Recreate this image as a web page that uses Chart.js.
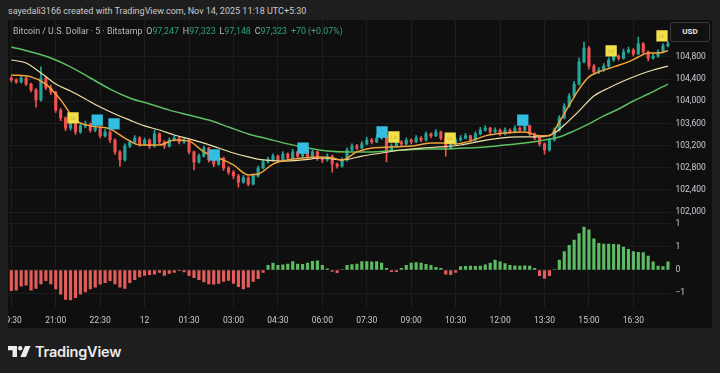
<!DOCTYPE html>
<html>
<head>
<meta charset="utf-8">
<script src="https://cdn.jsdelivr.net/npm/chart.js@4.4.1/dist/chart.umd.min.js"></script>
<style>
html,body{margin:0;padding:0;background:#1e1e1e;width:720px;height:373px;overflow:hidden;font-family:Roboto,"Noto Sans",sans-serif;}
#hdr{position:absolute;left:8px;top:5px;font-size:9px;line-height:12px;color:#c9c9c9;white-space:pre;}
#panel{position:absolute;left:8px;top:20px;width:704px;height:308px;background:#0f0f0f;overflow:hidden;}
#top{position:absolute;left:0;top:0;}
#bot{position:absolute;left:0;top:197px;}
#legend{position:absolute;left:5px;top:5px;font-size:8.8px;line-height:12px;color:#b9bcc4;white-space:pre;}
#legend .g{color:#2fa37a;}
#legend .k{margin-left:4px;}
#usd{position:absolute;left:662px;top:2px;width:38px;height:18px;border:1px solid #3a3a3a;border-radius:3px;background:#111;color:#e6e6e6;font-size:8px;font-weight:bold;line-height:18px;text-align:center;}
#foot{position:absolute;left:8px;top:343px;height:16px;display:flex;align-items:center;}
#foot span{font-family:Inter,Roboto,sans-serif;font-weight:600;font-size:14.5px;color:#ececec;margin-left:4px;letter-spacing:-0.2px;}
</style>
</head>
<body>
<div id="hdr">sayedali3166 created with TradingView.com, Nov 14, 2025 11:18 UTC+5:30</div>
<div id="panel">
  <canvas id="top" width="704" height="197"></canvas>
  <canvas id="bot" width="704" height="111"></canvas>
  <div id="legend">Bitcoin / U.S. Dollar · 5 · Bitstamp<span class="k">O</span><span class="g">97,247</span><span class="k">H</span><span class="g">97,323</span><span class="k">L</span><span class="g">97,148</span><span class="k">C</span><span class="g">97,323</span><span class="g k">+70 (+0.07%)</span></div>
  <div id="usd">USD</div>
</div>
<div id="foot">
  <svg width="23" height="11" viewBox="0 0 23 11"><path d="M0 0h9v11h-4.5v-6.8h-4.5z" fill="#ececec"/><circle cx="12.2" cy="2.2" r="2.2" fill="#ececec"/><path d="M17 0h5.5l-4.6 11h-5.5z" fill="#ececec"/></svg>
  <span>TradingView</span>
</div>
<script>
// 10 minute candles, first bar 19:30
const opens = [104420,104385,104350,104420,104310,104205,104025,104420,104240,104165,
103840,103700,103515,103590,103445,103555,103590,103480,103515,103375,
103445,103300,103085,102940,103190,103265,103335,103230,103300,103190,
103410,103265,103190,103300,103335,103265,103300,103085,102905,103010,
103155,102940,102865,102975,102795,102720,102650,102540,102615,102505,
102650,102795,102905,102940,103010,102940,103045,102975,103085,103010,
103120,103010,103085,102975,102940,103010,102865,102830,102940,103120,
103190,103155,103230,103300,103265,103335,103375,103120,103190,103265,
103230,103300,103265,103335,103300,103410,103375,103445,103335,103155,
103230,103300,103335,103375,103300,103410,103480,103515,103445,103480,
103410,103480,103445,103515,103480,103555,103410,103335,103230,103120,
103300,103480,103700,103915,104095,104310,104710,104960,104635,104530,
104565,104635,104745,104815,104780,104890,104925,104855,105035,104890,
104780,104815,104890,105000];
const closes = [104385,104350,104420,104310,104205,104025,104420,104240,104165,103840,
103700,103515,103590,103445,103555,103590,103480,103515,103375,103445,
103300,103085,102940,103190,103265,103335,103230,103300,103190,103410,
103265,103190,103300,103335,103265,103300,103085,102905,103010,103155,
102940,102865,102975,102795,102720,102650,102540,102615,102505,102650,
102795,102905,102940,103010,102940,103045,102975,103085,103010,103120,
103010,103085,102975,102940,103010,102865,102830,102940,103120,103190,
103155,103230,103300,103265,103335,103375,103120,103190,103265,103230,
103300,103265,103335,103300,103410,103375,103445,103335,103155,103230,
103300,103335,103375,103300,103410,103480,103515,103445,103480,103410,
103480,103445,103515,103480,103555,103410,103335,103230,103120,103300,
103480,103700,103915,104095,104310,104710,104960,104635,104530,104565,
104635,104745,104815,104780,104890,104925,104855,105035,104890,104780,
104815,104890,105000,105035];
const highs = [104450,104410,104460,104440,104330,104230,104620,104440,104290,104180,
103870,103720,103640,103610,103600,103640,103610,103560,103540,103490,
103470,103320,103110,103230,103300,103380,103360,103340,103320,103480,
103430,103290,103340,103380,103360,103350,103320,103100,103050,103190,
103170,102970,103020,102990,102820,102750,102680,102660,102640,102690,
102830,102940,102990,103050,103030,103090,103070,103130,103100,103170,
103140,103120,103100,103000,103050,103030,102890,102980,103160,103230,
103220,103270,103350,103330,103390,103430,103390,103230,103300,103290,
103340,103320,103380,103360,103450,103430,103490,103460,103350,103270,
103340,103380,103420,103390,103450,103530,103560,103530,103520,103500,
103520,103500,103560,103540,103610,103570,103430,103350,103250,103330,
103520,103740,103960,104140,104360,104780,105070,104990,104660,104610,
104680,104790,104860,104840,104940,104980,104950,105160,105060,104910,
104860,104930,105040,105080];
const lows = [104350,104320,104330,104280,104170,103895,104000,104210,104120,103800,
103650,103470,103480,103400,103420,103520,103440,103450,103340,103350,
103250,103040,102830,102920,103160,103240,103190,103200,103150,103170,
103230,103150,103170,103280,103230,103240,103050,102760,102880,102990,
102900,102820,102840,102750,102680,102600,102450,102520,102470,102490,
102630,102780,102880,102920,102900,102920,102940,102960,102970,102990,
102960,102990,102930,102890,102920,102720,102790,102810,102920,103100,
103120,103140,103210,103230,103250,103310,102905,103090,103170,103200,
103210,103230,103250,103270,103280,103340,103360,103300,103010,103130,
103210,103280,103320,103270,103280,103390,103460,103410,103430,103380,
103390,103420,103430,103450,103460,103380,103300,103190,103045,103100,
103280,103460,103680,103890,104070,104290,104690,104580,104490,104500,
104540,104610,104720,104740,104760,104870,104820,104840,104850,104730,
104760,104790,104870,104980];

// moving averages: [bar, price]
const maFast = [[0,104475],[4,104440],[7,104310],[10,104025],[13,103660],[16,103555],[20,103500],
[23,103335],[26,103210],[30,103210],[33,103300],[36,103280],[39,103085],[42,102975],[45,102850],
[48,102670],[50,102685],[53,102865],[56,102940],[59,102975],[62,102995],[65,102975],[67,102940],
[70,103085],[73,103155],[77,103175],[81,103190],[85,103245],[88,103245],[90,103230],[93,103280],
[96,103375],[100,103425],[104,103445],[107,103375],[109,103375],[111,103625],[113,103930],
[115,104220],[117,104440],[119,104530],[122,104620],[125,104710],[127,104800],[129,104870],
[131,104870],[133,104910]];
const maMid = [[0,104745],[3,104690],[6,104510],[9,104310],[12,104185],[15,104040],[18,103895],
[21,103770],[24,103660],[27,103555],[30,103480],[33,103390],[36,103320],[39,103245],[42,103155],
[45,103065],[48,102995],[51,102940],[55,102920],[59,102940],[63,102975],[67,102940],[71,103010],
[75,103065],[79,103120],[83,103155],[87,103175],[91,103210],[95,103280],[99,103335],[103,103355],
[107,103355],[110,103425],[112,103570],[115,103825],[118,104095],[121,104240],[124,104365],
[127,104475],[130,104565],[133,104635]];
const maSlow = [[0,104980],[4,104890],[8,104780],[12,104620],[16,104420],[20,104220],[24,104060],
[28,103950],[32,103840],[36,103750],[40,103660],[44,103535],[48,103410],[52,103320],[56,103230],
[60,103155],[64,103100],[68,103085],[72,103085],[76,103100],[80,103120],[84,103140],[88,103140],
[92,103155],[96,103175],[100,103210],[104,103245],[108,103300],[111,103355],[114,103465],
[117,103590],[120,103735],[123,103860],[126,104005],[129,104130],[133,104310]];

// signal squares
const signalIdx = [12.5,17.4,20.8,41.1,59.1,75.1,77.5,88.9,103.6,121.5,131.8];
const signalPrice = [103700,103660,103590,103030,103155,103445,103355,103335,103660,104910,105180];
const signalKind = ['y','c','c','c','c','c','y','y','c','y','y'];

// oscillator histogram
const osc = [-0.9,-0.88,-0.7,-0.66,-0.88,-0.8,-0.6,-0.46,-0.6,-0.82,
-1.05,-1.28,-1.3,-1.2,-1.05,-0.95,-0.82,-0.75,-0.62,-0.55,
-0.46,-0.6,-0.75,-0.8,-0.55,-0.42,-0.3,-0.24,-0.2,-0.18,
-0.1,-0.24,-0.15,-0.1,-0.03,-0.08,-0.25,-0.33,-0.42,-0.52,
-0.6,-0.62,-0.58,-0.5,-0.45,-0.58,-0.72,-0.82,-0.75,-0.5,
-0.38,-0.1,0.2,0.3,0.2,0.22,0.26,0.37,0.26,0.25,
0.3,0.38,0.4,0.2,0.05,-0.06,-0.12,0.02,0.2,0.24,
0.26,0.37,0.37,0.36,0.37,0.3,0.07,-0.07,-0.07,0.07,
0.2,0.3,0.32,0.3,0.25,0.2,0.12,0.07,-0.18,-0.2,
-0.1,0.15,0.16,0.17,0.16,0.17,0.22,0.3,0.43,0.36,
0.28,0.2,0.18,0.17,0.18,0.17,0.07,-0.25,-0.37,-0.25,
0.02,0.43,0.8,1.07,1.3,1.58,1.87,1.75,1.35,1.16,
1.13,1.13,1.12,1.1,1.0,0.9,0.8,0.77,0.76,0.6,
0.35,0.17,0.15,0.35];

const timeIdx = [0,9,18,27,36,45,54,63,72,81,90,99,108,117,126];
const timeLabels = ['19:30','21:00','22:30','12','01:30','03:00','04:30','06:00','07:30','09:00','10:30','12:00','13:30','15:00','16:30'];
const priceTicks = [102000,102400,102800,103200,103600,104000,104400,104800];
const oscTicks = [2,1,0,-1];
const oscTickLabels = ['1','1','0','−1'];

Chart.defaults.font.family = 'Roboto, "Noto Sans", sans-serif';
Chart.defaults.color = '#c9ccd4';

const upCol = '#26a69a', downCol = '#ef5350';
const gridCol = '#1c1c1c';
const axisW = 41.6;
const xMin = -0.67, xMax = 133.5;

const candleCols = closes.map((c, i) => c >= opens[i] ? upCol : downCol);
const wickData = highs.map((h, i) => ({x: i, y: [lows[i], h]}));
const bodyData = closes.map((c, i) => ({x: i, y: [opens[i], c]}));
const pts = arr => arr.map(p => ({x: p[0], y: p[1]}));
const lineDs = (arr, col, w) => ({type: 'line', data: pts(arr), borderColor: col, borderWidth: w,
  pointRadius: 0, cubicInterpolationMode: 'monotone', order: 1});

// faint "Lk" tag inside the yellow squares
const signalText = {
  id: 'signalText',
  afterDatasetsDraw(chart) {
    const meta = chart.getDatasetMeta(0);
    const ctx = chart.ctx;
    ctx.save();
    ctx.font = '5.5px Roboto';
    ctx.fillStyle = '#cdb538';
    ctx.textAlign = 'center';
    ctx.textBaseline = 'middle';
    meta.data.forEach((p, i) => { if (signalKind[i] === 'y') ctx.fillText('Lk', p.x, p.y + 0.5); });
    ctx.restore();
  }
};

const xAxis = (showLabels) => ({
  type: 'linear', min: xMin, max: xMax, offset: false,
  afterBuildTicks: s => { s.ticks = timeIdx.map(v => ({value: v})); },
  afterFit: s => { s.paddingLeft = 0; s.paddingRight = 0; s.height = showLabels ? 20 : 0; },
  grid: {color: gridCol, drawTicks: false, offset: false}, border: {display: false},
  ticks: {display: showLabels, autoSkip: false, maxRotation: 0, padding: 8,
    font: {size: 8.5}, callback: (v, i) => timeLabels[i]}
});

// price pane
new Chart(document.getElementById('top'), {
  type: 'bar',
  data: {datasets: [
    {type: 'scatter', data: signalIdx.map((x, i) => ({x, y: signalPrice[i]})), pointStyle: 'rect',
      pointRadius: 8, hoverRadius: 8, borderWidth: 0,
      backgroundColor: signalKind.map(k => k === 'y' ? '#f3df4a' : '#33bde0'), order: 0},
    lineDs(maFast, '#f2a33a', 1.5),
    lineDs(maMid, '#eee0a8', 1.2),
    lineDs(maSlow, '#5cbf62', 1.5),
    {data: bodyData, backgroundColor: candleCols, barThickness: 2.5, grouped: false, order: 2},
    {data: wickData, backgroundColor: candleCols, barThickness: 1, grouped: false, order: 3}
  ]},
  options: {
    responsive: false, animation: false,
    layout: {padding: 0, autoPadding: false},
    plugins: {legend: {display: false}, tooltip: {enabled: false}},
    scales: {
      x: xAxis(false),
      y: {position: 'right', min: 101910, max: 105467,
        afterBuildTicks: s => { s.ticks = priceTicks.map(v => ({value: v})); },
        afterFit: s => { s.width = axisW; s.paddingTop = 0; s.paddingBottom = 0; },
        grid: {color: gridCol, drawTicks: false}, border: {display: false},
        ticks: {padding: 5, font: {size: 8.5}, callback: v => v.toLocaleString('en-US')}}
    }
  },
  plugins: [signalText]
});

// oscillator pane
new Chart(document.getElementById('bot'), {
  type: 'bar',
  data: {datasets: [
    {data: osc.map((v, i) => ({x: i, y: v})), barThickness: 2.5,
      backgroundColor: osc.map(v => v >= 0 ? '#5dbb63' : '#e35d5d')}
  ]},
  options: {
    responsive: false, animation: false,
    layout: {padding: 0, autoPadding: false},
    plugins: {legend: {display: false}, tooltip: {enabled: false}},
    scales: {
      x: xAxis(true),
      y: {position: 'right', min: -1.652, max: 2.304,
        afterBuildTicks: s => { s.ticks = oscTicks.map(v => ({value: v})); },
        afterFit: s => { s.width = axisW; s.paddingTop = 0; s.paddingBottom = 0; },
        grid: {color: gridCol, drawTicks: false}, border: {display: false},
        ticks: {padding: 5, font: {size: 8.5}, callback: (v, i) => oscTickLabels[i]}}
    }
  }
});
</script>
</body>
</html>
